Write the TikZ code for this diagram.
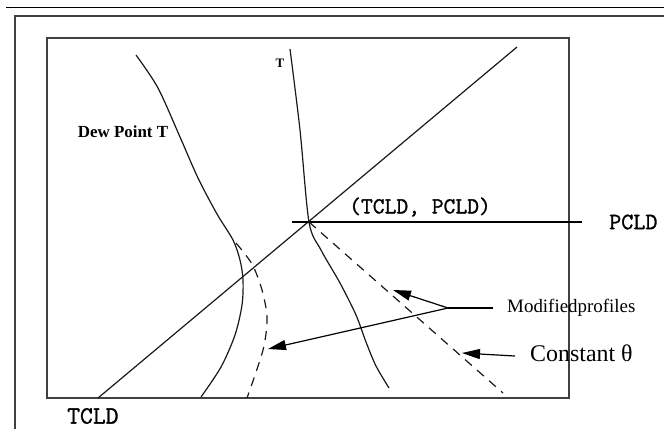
\documentclass[tikz,border=0pt]{standalone}
\usepackage{fontspec}
\setmainfont{Liberation Serif}
\newfontfamily\monofnt{Latin Modern Mono}[FakeBold=1.2]
\usetikzlibrary{arrows.meta}
\begin{document}
\begin{tikzpicture}[x=1bp,y=-1bp,
  curve/.style={line width=1.2bp, black!90},
  dashcurve/.style={line width=1.2bp, black!90, dash pattern=on 9bp off 7bp},
  boxline/.style={line width=2bp, black!75},
  pointer/.style={line width=1.2bp, black, -{Triangle[length=18bp,width=10bp]}},
  lbl/.style={inner sep=0pt, text=black}]
\useasboundingbox (0,0) rectangle (664,429);
% top rules and frames
\draw[line width=1.5bp, black] (6,7.5) -- (664,7.5);
\draw[boxline] (664,15.5) -- (14.5,15.5) -- (14.5,429);
\draw[boxline] (46.5,38) rectangle (568.5,398);
% key coordinates
\coordinate (cl) at (309,222);
\coordinate (diagA) at (98,398);
\coordinate (diagB) at (517,47);
\coordinate (hA) at (292,222);
\coordinate (hB) at (582,222);
\coordinate (thEnd) at (503,393);
% diagonal and PCLD level
\draw[curve] (diagA) -- (diagB);
\draw[line width=1.3bp] (hA) -- (hB);
% temperature profile T
\draw[curve] plot[smooth] coordinates {(290,49) (300,130) (309,222) (321,250) (340,283) (356,315) (366,342) (376,366) (389,388)};
% dew point profile
\draw[curve] plot[smooth] coordinates {(136,55) (158,88) (180,137) (198,178) (217,214) (233,240) (240,260) (243,280) (242,305) (235,335) (221,367) (201,397)};
% modified dew point (dashed)
\draw[dashcurve] plot[smooth] coordinates {(236,243) (252,264) (262,290) (267,318) (263,350) (247,398)};
% constant theta (dashed)
\draw[dashcurve] (cl) -- (thEnd);
% labels
\node[lbl, font=\bfseries\fontsize{17}{20}\selectfont] (dew) at (123,132) {Dew Point T};
\node[lbl, font=\bfseries\fontsize{13}{15}\selectfont] (tl) at (280,63) {T};
\node[lbl, font=\monofnt\fontsize{23}{26}\selectfont] (clpt) at (420,207) {(TCLD, PCLD)};
\node[lbl, font=\monofnt\fontsize{23.5}{26}\selectfont, anchor=west] (pcld) at (609,222) {PCLD};
\node[lbl, font=\monofnt\fontsize{25}{28}\selectfont, anchor=west] (tcld) at (67,416) {TCLD};
\node[lbl, font=\fontsize{19}{22}\selectfont, anchor=west] (mod) at (507,308) {Modifiedprofiles};
\node[lbl, font=\fontsize{24}{28}\selectfont, anchor=west] (cth) at (530,353) {Constant θ};
% arrows
\coordinate (modA) at (493,308);
\coordinate (modJ) at (448,308);
\coordinate (tipU) at (393,290);
\coordinate (tipL) at (268,349);
\coordinate (cthA) at (515,356);
\coordinate (tipC) at (462,353);
\draw[line width=1.2bp] (modA) -- (modJ);
\draw[pointer] (modJ) -- (tipU);
\draw[pointer] (modJ) -- (tipL);
\draw[pointer] (cthA) -- (tipC);
\end{tikzpicture}
\end{document}
